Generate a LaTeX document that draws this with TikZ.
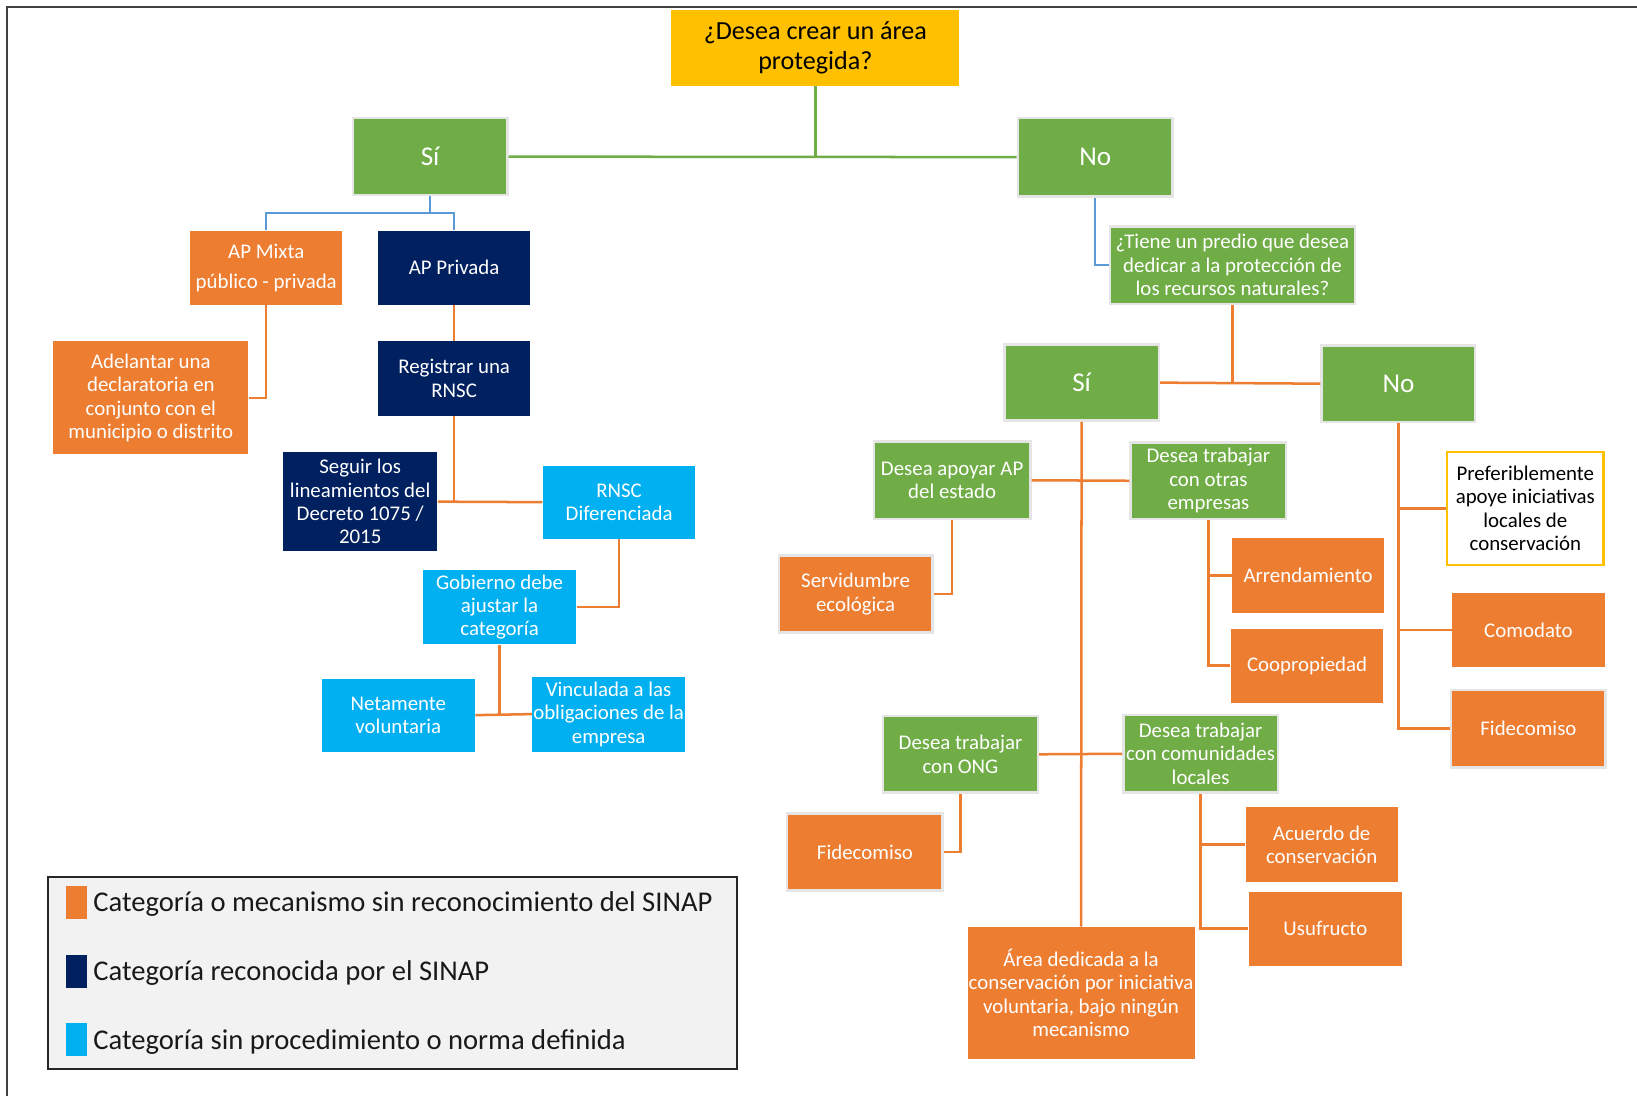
\documentclass[tikz,border=0pt]{standalone}
\usepackage{fontspec}
\setmainfont{Carlito}
\usepackage{xcolor}
\usepackage{tikz}
\usetikzlibrary{positioning, calc}

\definecolor{apgreen}{HTML}{70AD47}
\definecolor{aporange}{HTML}{ED7D31}
\definecolor{apnavy}{HTML}{002060}
\definecolor{apcyan}{HTML}{00B0F0}
\definecolor{apyellow}{HTML}{FFC000}
\definecolor{apblue}{HTML}{5B9BD5}
\definecolor{legendgray}{HTML}{F2F2F2}

\tikzset{
  boxsize/.style 2 args={minimum width=#1*0.5pt, minimum height=#2*0.5pt},
  box/.style={rectangle, inner sep=0.5pt, align=center, text=white, font=\fontsize{10}{11.2}\selectfont},
  greenbox/.style={box, fill=apgreen, draw=black!10, line width=1.2pt},
  answer/.style={greenbox, font=\fontsize{13}{15}\selectfont},
  orangebox/.style={box, fill=aporange},
  navybox/.style={box, fill=apnavy},
  cyanbox/.style={box, fill=apcyan},
  orangeline/.style={draw=aporange, line width=1.2pt},
  greenline/.style={draw=apgreen, line width=1.2pt},
  blueline/.style={draw=apblue, line width=1.2pt},
  legendtext/.style={anchor=west, inner sep=0pt, font=\fontsize{13.7}{15}\selectfont, text=black!90}
}

\begin{document}
\begin{tikzpicture}[x=0.5pt, y=-0.5pt]
    \useasboundingbox (0,0) rectangle (1568,1050);
    % Frame
    \draw[black!75, line width=0.8pt] (7,1050) -- (7,7) -- (1568,7);

    % Nodes
    \node (q) [box, fill=apyellow, text=black, boxsize={276}{72}, font=\fontsize{12.5}{14.5}\selectfont] at (781,46) {¿Desea crear un área\\protegida?};
    \node (si) [answer, boxsize={148}{74}] at (412,150) {Sí};
    \node (no) [answer, boxsize={148}{75}] at (1049,150.5) {No};

    % Left branch
    \node (mixta) [orangebox, boxsize={146}{71}] at (255,256.5) {AP Mixta\\[3pt]público - privada};
    \node (privada) [navybox, boxsize={146}{71}] at (435,256.5) {AP Privada};
    \node (adelantar) [orangebox, boxsize={187}{108}] at (144.5,381) {Adelantar una\\declaratoria en\\conjunto con el\\municipio o distrito};
    \node (registrar) [navybox, boxsize={146}{71}] at (435,362.5) {Registrar una\\RNSC};
    \node (seguir) [navybox, boxsize={148}{95}] at (345,480.5) {Seguir los\\lineamientos del\\Decreto 1075 /\\2015};
    \node (rnsc) [cyanbox, boxsize={146}{70}] at (593,481) {RNSC\\Diferenciada};
    \node (gobierno) [cyanbox, boxsize={147}{71}] at (478.5,581.5) {Gobierno debe\\ajustar la\\categoría};
    \node (netamente) [cyanbox, boxsize={147}{70}] at (381.5,685) {Netamente\\voluntaria};
    \node (vinculada) [cyanbox, boxsize={146}{72}] at (583,684) {Vinculada a las\\obligaciones de la\\empresa};

    % Right branch
    \node (tiene) [greenbox, boxsize={235}{74}] at (1180.5,254) {¿Tiene un predio que desea\\dedicar a la protección de\\los recursos naturales?};
    \node (si2) [answer, boxsize={148}{73}] at (1036,366.5) {Sí};
    \node (no2) [answer, boxsize={147}{73}] at (1339.5,367.5) {No};
    \node (apoyar) [greenbox, boxsize={150}{74}] at (912,460) {Desea apoyar AP\\del estado};
    \node (otras) [greenbox, boxsize={149}{73}] at (1157.5,460.5) {Desea trabajar\\con otras\\empresas};
    \node (servid) [orangebox, boxsize={147}{74}, draw=black!10, line width=1.2pt] at (819.5,569) {Servidumbre\\ecológica};
    \node (arren) [orangebox, boxsize={146}{72}] at (1253,551) {Arrendamiento};
    \node (coop) [orangebox, boxsize={146}{71}] at (1252,637.5) {Coopropiedad};
    \node (ong) [greenbox, boxsize={148}{73}] at (920,722.5) {Desea trabajar\\con ONG};
    \node (fide1) [orangebox, boxsize={149}{74}, draw=black!10, line width=1.2pt] at (828.5,816) {Fidecomiso};
    \node (comun) [greenbox, boxsize={148}{74}] at (1150,722) {Desea trabajar\\con comunidades\\locales};
    \node (acuerdo) [orangebox, boxsize={146}{72}] at (1266,809) {Acuerdo de\\conservación};
    \node (usu) [orangebox, boxsize={147}{71}] at (1269.5,889.5) {Usufructo};
    \node (area) [orangebox, boxsize={215}{126}] at (1035.5,951) {Área dedicada a la\\conservación por iniciativa\\voluntaria, bajo ningún\\mecanismo};
    \node (pref) [box, text=black, draw=apyellow, line width=1.2pt, fill=white, boxsize={150}{108}] at (1461,487) {Preferiblemente\\apoye iniciativas\\locales de\\conservación};
    \node (comodato) [orangebox, boxsize={146}{71}] at (1464,603.5) {Comodato};
    \node (fide2) [orangebox, boxsize={148}{74}, draw=black!10, line width=1.2pt] at (1464,698) {Fidecomiso};

    % Flows
    \draw[greenline] (q.south) -- (q.south |- si.east);
    \draw[greenline] (si.east) -- (no.west);
    \coordinate (splitsi) at (412,204);
    \draw[blueline] (si.south) -- (splitsi);
    \draw[blueline] (mixta.north) |- (splitsi) -| (privada.north);
    \draw[orangeline] (mixta.south) |- (adelantar.east);
    \draw[orangeline] (privada.south) -- (registrar.north);
    \draw[orangeline] (registrar.south) -- (registrar.south |- rnsc.west);
    \draw[orangeline] (seguir.east) -- (rnsc.west);
    \draw[orangeline] (rnsc.south) |- (gobierno.east);
    \draw[orangeline] (gobierno.south) -- (gobierno.south |- vinculada.west);
    \draw[orangeline] (netamente.east) -- (vinculada.west);

    \draw[blueline] (no.south) |- (tiene.west);
    \draw[orangeline] (tiene.south) -- (tiene.south |- si2.east);
    \draw[orangeline] (si2.east) -- (no2.west);
    \draw[orangeline] (si2.south) -- (area.north);
    \draw[orangeline] (apoyar.east) -- (otras.west);
    \draw[orangeline] (ong.east) -- (comun.west);
    \draw[orangeline] (apoyar.south) |- (servid.east);
    \draw[orangeline] (otras.south) |- (coop.west);
    \draw[orangeline] (otras.south |- arren.west) -- (arren.west);
    \draw[orangeline] (ong.south) |- (fide1.east);
    \draw[orangeline] (comun.south) |- (usu.west);
    \draw[orangeline] (comun.south |- acuerdo.west) -- (acuerdo.west);
    \draw[orangeline] (no2.south) |- (fide2.west);
    \draw[orangeline] (no2.south |- pref.west) -- (pref.west);
    \draw[orangeline] (no2.south |- comodato.west) -- (comodato.west);

    % Legend
    \node (legend) [rectangle, draw=black!85, fill=legendgray, line width=0.8pt, boxsize={660}{184}] at (376,932) {};
    \node (keyorange) [rectangle, fill=aporange, inner sep=0pt, boxsize={20}{31}] at (73,864.5) {};
    \node (keynavy) [rectangle, fill=apnavy, inner sep=0pt, boxsize={20}{31}] at (73,930.5) {};
    \node (keycyan) [rectangle, fill=apcyan, inner sep=0pt, boxsize={20}{31}] at (73,995.5) {};
    \node (textorange) [legendtext] at (89,866) {Categoría o mecanismo sin reconocimiento del SINAP};
    \node (textnavy) [legendtext] at (89,932) {Categoría reconocida por el SINAP};
    \node (textcyan) [legendtext] at (89,998) {Categoría sin procedimiento o norma definida};
\end{tikzpicture}
\end{document}
